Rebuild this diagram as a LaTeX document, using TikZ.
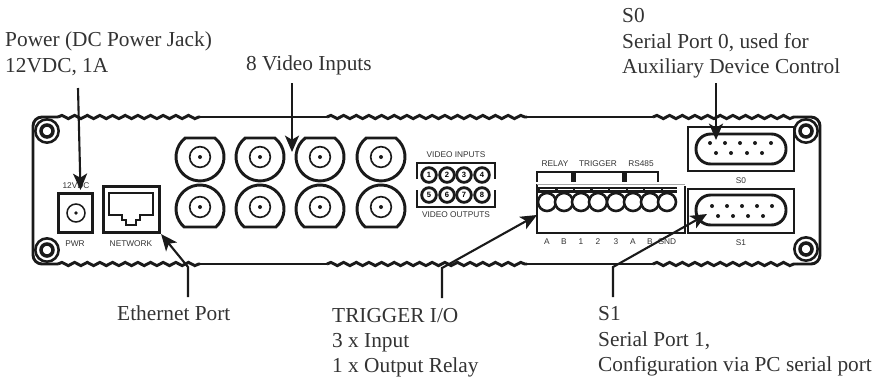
\documentclass[tikz,border=0pt]{standalone}
\usepackage{fontspec}
\setmainfont{Liberation Serif}
\newfontfamily\panelfont{Liberation Sans}
\usetikzlibrary{arrows.meta,decorations.pathmorphing}
\definecolor{inkline}{HTML}{1A1A1A}
\definecolor{inktext}{HTML}{333333}
\tikzset{
    callout/.style={anchor=base west, inner sep=0pt, text=inktext, font=\fontsize{18.2}{20}\selectfont},
    paneltext/.style={inner sep=0pt, text=inktext, font=\panelfont\fontsize{7.1}{8}\selectfont},
    leader/.style={draw=inkline, line width=1.8pt, -{Stealth[length=14pt,width=12pt,inset=3.5pt]}},
    heavy/.style={draw=inkline, line width=2.5pt},
    ripple/.style={decorate, decoration={snake, segment length=10.8pt, amplitude=1.4pt}},
    portbox/.style={heavy, minimum width=3.18cm, minimum height=1.32cm},
    dshell/.style={heavy, minimum width=2.7cm, minimum height=0.9cm, rounded corners=0.44cm},
    screw/.style={circle, inner sep=0pt, draw=inkline, fill=white},
    vidnum/.style={circle, inner sep=0pt, minimum size=0.44cm, draw=inkline, line width=2.4pt, font=\panelfont\bfseries\fontsize{6.5}{7}\selectfont}
}
\begin{document}
\begin{tikzpicture}[x=0.03cm,y=-0.03cm]
    \useasboundingbox (0,0) rectangle (881,379);

    % housing
    \draw[heavy, rounded corners=0.27cm] (58,117) -- (33,117) -- (33,264) -- (58,264);
    \draw[heavy, rounded corners=0.27cm] (797,117) -- (820,117) -- (820,264) -- (797,264);
    \draw[heavy] (200,117) -- (327,117) (527,117) -- (653,117);
    \draw[heavy] (200,264) -- (327,264) (527,264) -- (653,264);
    \foreach \y in {117,264} {
        \draw[heavy, ripple] (58,\y) -- (200,\y);
        \draw[heavy, ripple] (327,\y) -- (527,\y);
        \draw[heavy, ripple] (653,\y) -- (797,\y);
    }

    % mounting screws
    \foreach \n/\x/\y in {a/47/131, b/47/250, c/806/131, d/806/249} {
        \node[screw, line width=2.2pt, minimum size=0.7cm] (screw\n) at (\x,\y) {};
        \node[screw, line width=3pt, minimum size=0.36cm] at (screw\n) {};
    }

    % power and network
    \node[heavy, minimum width=1.02cm, minimum height=1.16cm] (pwrbox) at (75.5,213) {};
    \node[circle, draw=inkline, line width=1.3pt, minimum size=0.54cm, inner sep=0pt] (jack) at (76,213) {};
    \fill[inkline] (jack) circle[radius=1.8];
    \node[paneltext] (pwrtop) at (76,186) {12VDC};
    \node[paneltext] (pwrlabel) at (75,244) {PWR};
    \node[heavy, minimum width=1.69cm, minimum height=1.39cm] (network) at (131.5,209.5) {};
    \draw[inkline, line width=1.2pt] (109,193) -- (153,193) -- (153,215) -- (140,215) -- (140,220) -- (136,220) -- (136,225)
        -- (126,225) -- (126,220) -- (122,220) -- (122,215) -- (109,215) -- cycle;
    \node[paneltext] (netlabel) at (131,244) {NETWORK};

    % video connectors
    \foreach \x in {200,260,320,381} {
        \draw[heavy] (\x+14.8,138) arc[start angle=-52, end angle=232, radius=24] -- cycle;
        \draw[heavy] (\x+15.9,227) arc[start angle=48.6, end angle=-228.6, radius=24] -- cycle;
        \foreach \y in {157,207} {
            \node[circle, draw=inkline, line width=1.4pt, minimum size=0.62cm, inner sep=0pt] (bnc\x\y) at (\x,\y) {};
            \fill[inkline] (bnc\x\y) circle[radius=2];
        }
    }

    % video index
    \draw[heavy] (417,179) -- (417,163) -- (495,163) -- (495,179);
    \draw[heavy] (417,190) -- (417,207) -- (495,207) -- (495,190);
    \foreach \n/\x/\y in {1/429/175, 2/447/175, 3/464/175, 4/482/175, 5/429/195, 6/447/195, 7/464/195, 8/482/195} {
        \node[vidnum] (vid\n) at (\x,\y) {\n};
    }
    \node[paneltext] (vidin) at (456,155) {VIDEO INPUTS};
    \node[paneltext] (vidout) at (456,215) {VIDEO OUTPUTS};

    % terminal block
    \draw[heavy] (537,184) -- (537,233) -- (685,233) -- (685,186);
    \draw[gray!70, line width=1.5pt] (537,184.5) -- (685,184.5);
    \fill[inkline] (537,187) rectangle (677,193);
    \draw[white, line width=0.6pt, dash pattern=on 13pt off 2pt] (540,189.5) -- (677,189.5);
    \foreach \n/\x/\t in {1/547/A, 2/564/B, 3/581/1, 4/598/2, 5/616/3, 6/633/A, 7/650/B, 8/667/GND} {
        \node[circle, draw=inkline, fill=white, line width=2.2pt, minimum size=0.54cm, inner sep=0pt] (term\n) at (\x,202) {};
        \node[paneltext] (pin\n) at (\x,242) {\t};
    }
    \draw[heavy] (537,182) -- (537,172) -- (572,172) -- (572,182);
    \draw[heavy] (574.5,182) -- (574.5,172) -- (623,172) -- (623,182);
    \draw[heavy] (625.5,182) -- (625.5,172) -- (658,172) -- (658,182);
    \node[paneltext] (relay) at (555,164) {RELAY};
    \node[paneltext] (trigger) at (598,164) {TRIGGER};
    \node[paneltext] (rsport) at (641,164) {RS485};

    % serial ports
    \node[portbox] (szero) at (741,149) {};
    \node[dshell] (szeroshell) at (741,149) {};
    \node[paneltext] (szerolabel) at (741,181) {S0};
    \node[portbox] (sone) at (741,211) {};
    \node[dshell] (soneshell) at (741,210) {};
    \node[paneltext] (sonelabel) at (741,243) {S1};
    \foreach \x in {710,725,740,755,771} \fill[inkline] (\x,143) circle[radius=2];
    \foreach \x in {716,731,747,762} \fill[inkline] (\x,153) circle[radius=2];
    \foreach \x in {712,727,742,757,772} \fill[inkline] (\x,206) circle[radius=2];
    \foreach \x in {718,733,748,763} \fill[inkline] (\x,216) circle[radius=2];

    % callouts
    \node[callout] (powertext) at (5,46) {Power (DC Power Jack)};
    \node[callout] (powerrate) at (5,72) {12VDC, 1A};
    \node[callout] (videotext) at (246,70) {8 Video Inputs};
    \node[callout] (szerotext) at (622,22) {S0};
    \node[callout] (szerouse) at (622,48) {Serial Port 0, used for};
    \node[callout] (szeroaux) at (622,73) {Auxiliary Device Control};
    \node[callout] (ethertext) at (117,320) {Ethernet Port};
    \node[callout] (trigtext) at (332,322) {TRIGGER I/O};
    \node[callout] (triginput) at (332,347) {3 x Input};
    \node[callout] (trigrelay) at (332,372) {1 x Output Relay};
    \node[callout] (sonetext) at (598,320) {S1};
    \node[callout] (soneuse) at (598,346) {Serial Port 1,};
    \node[callout] (soneconf) at (598,371) {Configuration via PC serial port};

    % leaders
    \coordinate (powertail) at (78,88);
    \coordinate (powertip) at (80.5,190);
    \coordinate (videotail) at (292,83);
    \coordinate (videotip) at (292,152);
    \coordinate (szerotail) at (716,83);
    \coordinate (szerotip) at (716,140);
    \coordinate (ethertail) at (188,297);
    \coordinate (etherbend) at (188,267);
    \coordinate (trigtail) at (442,298);
    \coordinate (trigbend) at (442,268);
    \coordinate (trigtip) at (537,215);
    \coordinate (sonetail) at (613,297);
    \coordinate (sonebend) at (613,267);
    \coordinate (sonetip) at (707,214);
    \draw[leader] (powertail) -- (powertip);
    \draw[leader] (videotail) -- (videotip);
    \draw[leader] (szerotail) -- (szerotip);
    \draw[leader] (ethertail) -- (etherbend) -- (network.south east);
    \draw[leader] (trigtail) -- (trigbend) -- (trigtip);
    \draw[leader] (sonetail) -- (sonebend) -- (sonetip);
\end{tikzpicture}
\end{document}
